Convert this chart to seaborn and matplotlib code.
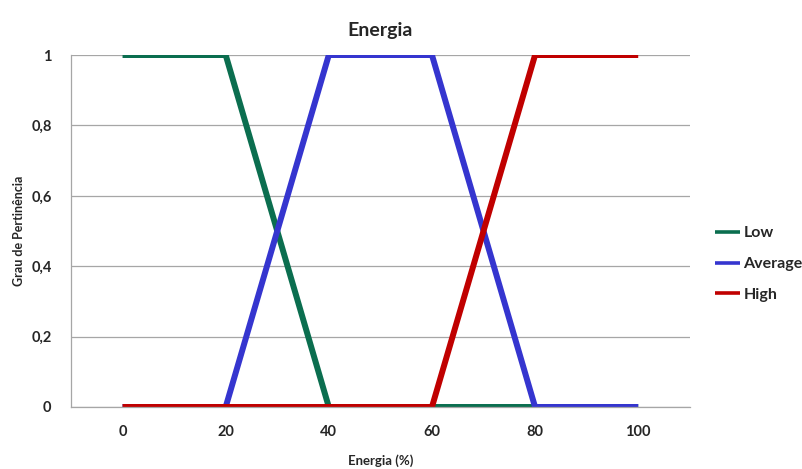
import matplotlib
matplotlib.use("Agg")
import matplotlib.pyplot as plt
import seaborn as sns
import pandas as pd

# dados das funções de pertinência
energia = [0, 20, 40, 60, 80, 100]
low = [1, 1, 0, 0, 0, 0]
average = [0, 0, 1, 1, 0, 0]
high = [0, 0, 0, 0, 1, 1]
series_names = ["Low", "Average", "High"]
cores = ["#0B6E4F", "#3535CF", "#C00000"]
y_ticks = [0, 0.2, 0.4, 0.6, 0.8, 1]
y_tick_labels = ["0", "0,2", "0,4", "0,6", "0,8", "1"]

sns.set_style("white")
plt.rcParams['font.family'] = ['Lato', 'DejaVu Sans']
plt.rcParams['font.weight'] = 'bold'

df = pd.DataFrame({
    "Energia": energia * 3,
    "Grau": low + average + high,
    "Serie": [n for n in series_names for _ in energia],
})

fig = plt.figure(figsize=(8.03, 4.69), dpi=100)
ax = fig.add_axes([0.0884, 0.1322, 0.7706, 0.7505])

sns.lineplot(data=df, x="Energia", y="Grau", hue="Serie", hue_order=series_names,
             palette=cores, linewidth=4.3, ax=ax, legend=False,
             solid_capstyle="butt", solid_joinstyle="miter")

ax.set_xlim(-10, 110)
ax.set_ylim(0, 1)
ax.set_xticks(energia)
ax.set_xticklabels([str(v) for v in energia], fontsize=10.5, fontweight='bold')
ax.set_yticks(y_ticks)
ax.set_yticklabels(y_tick_labels, fontsize=10.5, fontweight='bold')
ax.tick_params(axis='x', length=0, pad=13)
ax.tick_params(axis='y', length=0, pad=14)
ax.yaxis.grid(True, color="#A6A6A6", linewidth=0.9)
ax.set_axisbelow(True)
for s in ["top", "right"]:
    ax.spines[s].set_visible(False)
for s in ["left", "bottom"]:
    ax.spines[s].set_color("#A6A6A6")
    ax.spines[s].set_linewidth(0.9)

ax.set_title("Energia", fontsize=14, fontweight='bold', pad=14)
ax.set_xlabel("Energia (%)", fontsize=9.5, fontweight='bold')
ax.set_ylabel("Grau de Pertinência", fontsize=9, fontweight='bold')
ax.xaxis.set_label_coords(0.5, -0.135)
ax.yaxis.set_label_coords(-0.074, 0.5)

handles = ax.get_lines()[:3]
leg = fig.legend(handles, series_names, loc="center left", bbox_to_anchor=(0.872, 0.437),
                 frameon=False, handlelength=1.6, handletextpad=0.2, labelspacing=1.05,
                 prop={'weight': 'bold', 'size': 11.5})
for h in leg.get_lines():
    h.set_linewidth(2.6)

fig.savefig("out.png", dpi=100)
